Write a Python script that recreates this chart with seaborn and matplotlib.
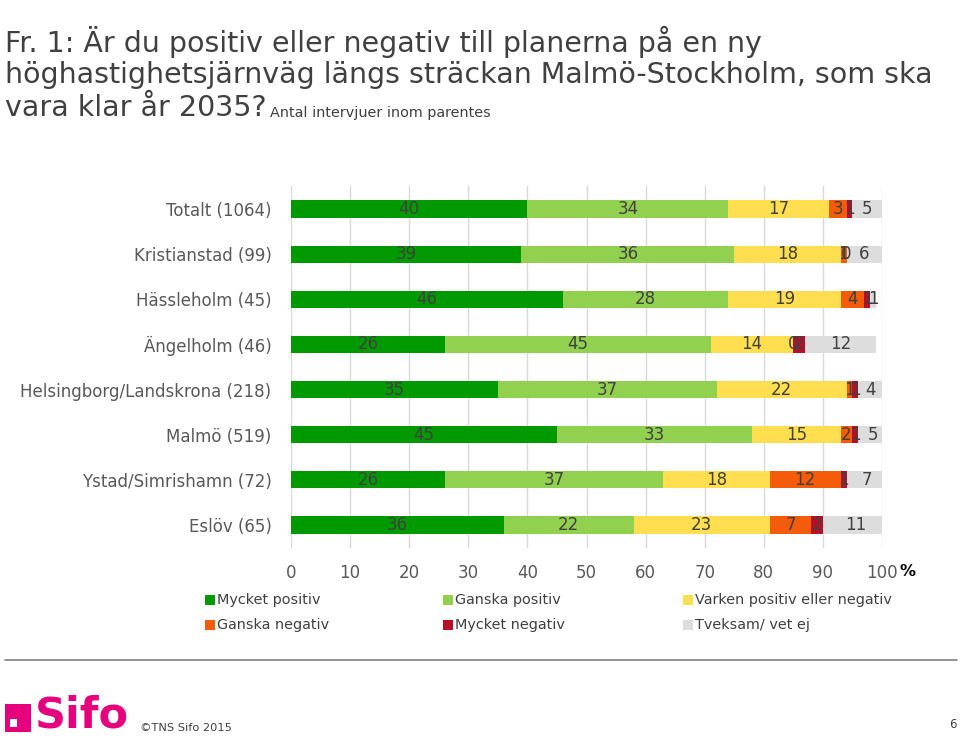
import numpy as np
import pandas as pd
import matplotlib
matplotlib.use("Agg")
import matplotlib.pyplot as plt
from matplotlib.patches import Rectangle
import seaborn as sns

sns.set_theme(style="white")
plt.rcParams['font.family'] = ['DejaVu Sans']

categories = ["Totalt (1064)", "Kristianstad (99)", "Hässleholm (45)", "Ängelholm (46)",
              "Helsingborg/Landskrona (218)", "Malmö (519)", "Ystad/Simrishamn (72)", "Eslöv (65)"]
series_names = ["Mycket positiv", "Ganska positiv", "Varken positiv eller negativ",
                "Ganska negativ", "Mycket negativ", "Tveksam/ vet ej"]
mycket_positiv = [40, 39, 46, 26, 35, 45, 26, 36]
ganska_positiv = [34, 36, 28, 45, 37, 33, 37, 22]
varken = [17, 18, 19, 14, 22, 15, 18, 23]
ganska_negativ = [3, 1, 4, 0, 1, 2, 12, 7]
mycket_negativ = [1, 0, 1, 2, 1, 1, 1, 2]
tveksam = [5, 6, 1, 12, 4, 5, 7, 11]
x_ticks = [0, 10, 20, 30, 40, 50, 60, 70, 80, 90, 100]

colors = ["#009a00", "#92d050", "#ffdf4f", "#f45b0a", "#b5102a", "#dddddd"]
series = [mycket_positiv, ganska_positiv, varken, ganska_negativ, mycket_negativ, tveksam]

fig = plt.figure(figsize=(9.6, 7.38), dpi=100)
ax = fig.add_axes([291/960, 1-547.6/738, (882-291)/960, (547.6-186.4)/738])

vals = np.array(series, dtype=float)
cum = np.cumsum(vals, axis=0)

# draw cumulative bars from the back so they stack visually
for i in range(len(series) - 1, -1, -1):
    df = pd.DataFrame({"cat": categories, "val": cum[i]})
    sns.barplot(data=df, x="val", y="cat", orient="h", color=colors[i],
                saturation=1, width=0.38, ax=ax, zorder=3, linewidth=0)

# labels
for i in range(len(series)):
    for j in range(len(categories)):
        start = cum[i][j] - vals[i][j]
        ax.text(start + vals[i][j] / 2, j, f"{int(vals[i][j])}", ha="center", va="center",
                fontsize=12, color="#404040", zorder=5)

ax.set_xlim(0, 100)
ax.set_ylim(7.5, -0.5)
ax.set_xticks(x_ticks)
ax.set_xticklabels([str(t) for t in x_ticks])
ax.set_xlabel("")
ax.set_ylabel("")
ax.grid(axis="x", color="#d9d9d9", linewidth=1, zorder=0)
ax.set_axisbelow(True)
for s in ax.spines.values():
    s.set_visible(False)
ax.tick_params(axis="x", length=0, pad=12, labelsize=12, labelcolor="#595959")
ax.tick_params(axis="y", length=0, pad=14, labelsize=12, labelcolor="#595959")
fig.text(900/960, 1-572/738, "%", ha="left", va="center", fontsize=11.5,
         fontweight="bold", color="black")

# title
title_lines = ["Fr. 1: Är du positiv eller negativ till planerna på en ny",
               "höghastighetsjärnväg längs sträckan Malmö-Stockholm, som ska",
               "vara klar år 2035?"]
fig.text(5/960, 1-42/738, title_lines[0], fontsize=20.5, color="#404040", va="center", ha="left")
fig.text(5/960, 1-75/738, title_lines[1], fontsize=20.5, color="#404040", va="center", ha="left")
fig.text(5/960, 1-108/738, title_lines[2], fontsize=20.5, color="#404040", va="center", ha="left")
fig.text(270/960, 1-113/738, "Antal intervjuer inom parentes", fontsize=10.4, color="#404040",
         va="center", ha="left")

# legend (manual layout)
leg_pos = [(205, 600), (443, 600), (683, 600), (205, 625), (443, 625), (683, 625)]
for (px, py), name, c in zip(leg_pos, series_names, colors):
    fig.patches.append(Rectangle((px/960, 1-(py+5)/738), 10/960, 10/738,
                                 transform=fig.transFigure, facecolor=c, edgecolor="none"))
    fig.text((px+12)/960, 1-py/738, name, fontsize=10.4, color="#404040", va="center", ha="left")

# footer
fig.add_artist(plt.Line2D([5/960, 957/960], [1-660/738, 1-660/738], color="#808080", linewidth=1.2,
                          transform=fig.transFigure))
fig.patches.append(Rectangle((5/960, 1-732/738), 26/960, 28/738, transform=fig.transFigure,
                             facecolor="#e6007e", edgecolor="none"))
fig.patches.append(Rectangle((10/960, 1-727/738), 7/960, 8/738, transform=fig.transFigure,
                             facecolor="white", edgecolor="none"))
fig.text(35/960, 1-716/738, "Sifo", fontsize=31, fontweight="bold", color="#e6007e",
         va="center", ha="left")
fig.text(140/960, 1-728/738, "©TNS Sifo 2015", fontsize=8.2, color="#404040", va="center", ha="left")
fig.text(957/960, 1-724/738, "6", fontsize=8.5, color="#404040", va="center", ha="right")

fig.savefig("out.png", dpi=100)
